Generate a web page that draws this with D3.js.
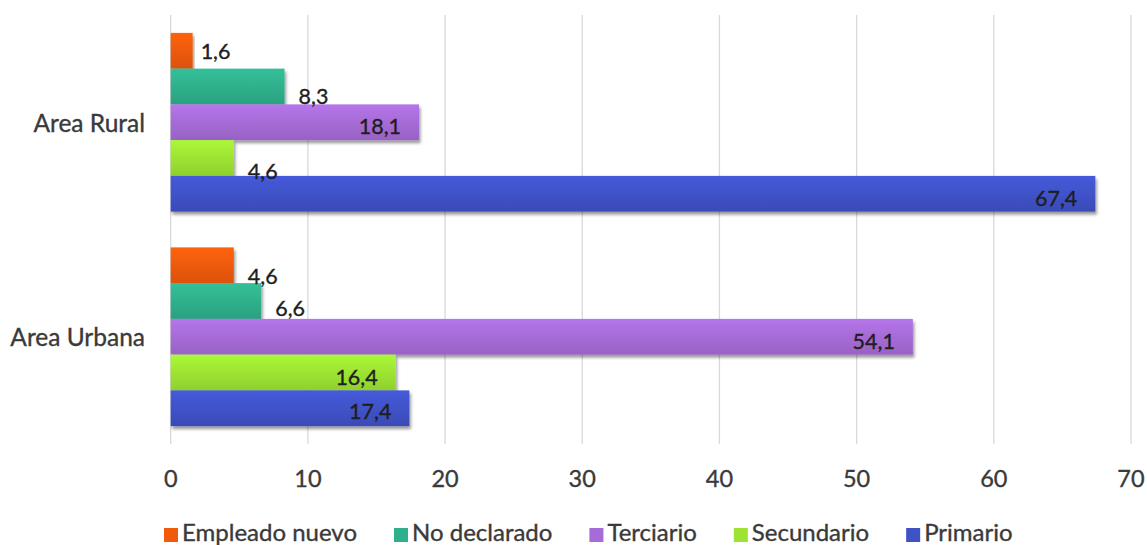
<!DOCTYPE html>
<html>
<head>
<meta charset="utf-8">
<script src="https://cdn.jsdelivr.net/npm/d3@7"></script>
<style>
  html, body { margin: 0; padding: 0; background: #fff; }
  svg { display: block; }
  text { font-family: Lato, "Open Sans", sans-serif; }
</style>
</head>
<body>
<svg id="chart" width="1147" height="545"></svg>
<script>
// ---- data ----
const categories = ["Area Rural", "Area Urbana"];
const seriesNames = ["Empleado nuevo", "No declarado", "Terciario", "Secundario", "Primario"];
const seriesColors = ["#f05a0a", "#2fb08c", "#a66bd6", "#9ce332", "#3f52c8"];
const ruralValues = [1.6, 8.3, 18.1, 4.6, 67.4];
const urbanValues = [4.6, 6.6, 54.1, 16.4, 17.4];
const xTicks = [0, 10, 20, 30, 40, 50, 60, 70];
// label placement: "in" = inside end, "out" = outside end (with small vertical nudge)
const ruralLabelMode = ["out", "out", "in", "out", "in"];
const urbanLabelMode = ["out", "out", "in", "in", "in"];
const ruralLabelNudge = [0, 9, 4, 13, 4];
const urbanLabelNudge = [11, 7, 4, 4, 3];

const valuesByCat = [ruralValues, urbanValues];
const modeByCat = [ruralLabelMode, urbanLabelMode];
const nudgeByCat = [ruralLabelNudge, urbanLabelNudge];

const svg = d3.select("#chart");
const defs = svg.append("defs");

seriesColors.forEach((c, i) => {
  const g = defs.append("linearGradient").attr("id", "grad" + i)
    .attr("x1", 0).attr("y1", 0).attr("x2", 0).attr("y2", 1);
  g.append("stop").attr("offset", "0%").attr("stop-color", d3.color(c).brighter(0.25));
  g.append("stop").attr("offset", "100%").attr("stop-color", d3.color(c).darker(0.25));
});
const f = defs.append("filter").attr("id", "shadow")
  .attr("x", "-5%").attr("y", "-20%").attr("width", "115%").attr("height", "160%");
f.append("feDropShadow").attr("dx", 1.5).attr("dy", 3).attr("stdDeviation", 1.8)
  .attr("flood-color", "#000").attr("flood-opacity", 0.4);

const x = d3.scaleLinear().domain([0, 70]).range([170.7, 1131]);
const y0 = d3.scaleBand().domain(categories).range([15, 444])
  .paddingInner(1 / 6).paddingOuter(1 / 12);
const y1 = d3.scaleBand().domain(seriesNames).range([0, y0.bandwidth()]).padding(0);

const textColor = "#3a3a3a";

// gridlines
svg.append("g").selectAll("line").data(xTicks).join("line")
  .attr("x1", d => x(d)).attr("x2", d => x(d))
  .attr("y1", 15).attr("y2", 444)
  .attr("stroke", "#d9d9d9").attr("stroke-width", 1.3);

// x tick labels
svg.append("g").selectAll("text").data(xTicks).join("text")
  .attr("x", d => x(d)).attr("y", 487)
  .attr("text-anchor", "middle")
  .attr("font-size", 23.5).attr("fill", textColor)
  .attr("stroke", textColor).attr("stroke-width", 0.35)
  .text(d => d);

// category labels
svg.append("g").selectAll("text").data(categories).join("text")
  .attr("x", 145).attr("y", d => y0(d) + y0.bandwidth() / 2)
  .attr("text-anchor", "end").attr("dominant-baseline", "central")
  .attr("font-size", 24.5).attr("fill", textColor)
  .attr("stroke", textColor).attr("stroke-width", 0.35)
  .text(d => d);

// bars
const groups = svg.append("g").selectAll("g").data(categories).join("g")
  .attr("transform", d => `translate(0,${y0(d)})`);

groups.each(function (cat, ci) {
  const g = d3.select(this);
  const rows = seriesNames.map((s, si) => ({
    s, si, v: valuesByCat[ci][si], mode: modeByCat[ci][si], nudge: nudgeByCat[ci][si]
  }));
  g.selectAll("rect").data(rows).join("rect")
    .attr("x", x(0))
    .attr("y", d => y1(d.s))
    .attr("width", d => x(d.v) - x(0))
    .attr("height", y1.bandwidth())
    .attr("fill", d => `url(#grad${d.si})`)
    .attr("filter", "url(#shadow)");
  g.selectAll("text").data(rows).join("text")
    .attr("x", d => d.mode === "in" ? x(d.v) - 18 : x(d.v) + (d.v < 3 ? 8 : 14))
    .attr("y", d => y1(d.s) + y1.bandwidth() / 2 + d.nudge)
    .attr("text-anchor", d => d.mode === "in" ? "end" : "start")
    .attr("dominant-baseline", "central")
    .attr("font-size", 21.5).attr("fill", "#1e1e1e")
    .attr("stroke", "#1e1e1e").attr("stroke-width", 0.35)
    .text(d => d3.format(".1f")(d.v).replace(".", ","));
});

// legend
const legend = svg.append("g");
let lx = 164;
seriesNames.forEach((s, i) => {
  legend.append("rect").attr("x", lx).attr("y", 528).attr("width", 14).attr("height", 14)
    .attr("fill", seriesColors[i]);
  const t = legend.append("text").attr("x", lx + 18).attr("y", 541)
    .attr("font-size", 24).attr("fill", textColor)
    .attr("stroke", textColor).attr("stroke-width", 0.35).text(s);
  lx += 18 + t.node().getComputedTextLength() + 37;
});
</script>
</body>
</html>
